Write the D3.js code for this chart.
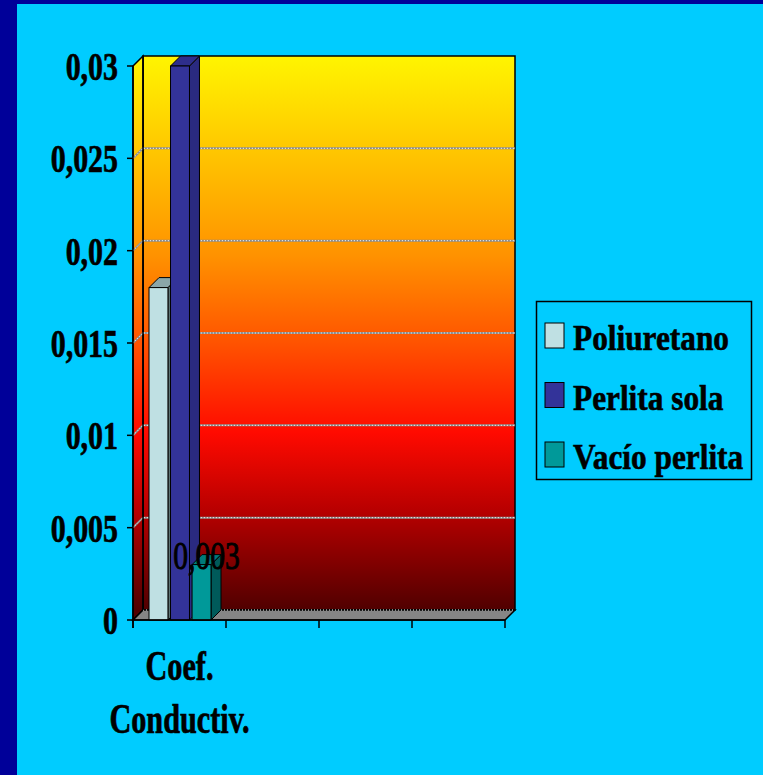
<!DOCTYPE html>
<html>
<head>
<meta charset="utf-8">
<script src="https://cdn.jsdelivr.net/npm/d3@7/dist/d3.min.js"></script>
<style>
  html, body { margin: 0; padding: 0; background: #00CCFF; }
  svg { display: block; }
</style>
</head>
<body>
<svg id="chart" width="763" height="775"></svg>
<script>
// Thermal conductivity comparison of insulation options
const categories = ["Coef. Conductiv.", "", "", ""];
const seriesNames = ["Poliuretano", "Perlita sola", "Vacío perlita"];
const seriesValues = [0.018, 0.03, 0.003];          // values for "Coef. Conductiv."
const seriesLabelShown = [false, false, true];
const yTicks = [0, 0.005, 0.01, 0.015, 0.02, 0.025, 0.03];

const faceColors = [
  { front: "#BFE0E3", top: "#8BA6A8", side: "#5E7474" },
  { front: "#333399", top: "#2E2E8C", side: "#2A2A80" },
  { front: "#009999", top: "#007A7A", side: "#005A5A" }
];

const FONT = "'Liberation Serif', 'Times New Roman', serif";
const svg = d3.select("#chart");
const W = 763, H = 775;

// page background with dark frame on the left and top
svg.append("rect").attr("width", W).attr("height", H).attr("fill", "#000099");
svg.append("rect").attr("x", 17).attr("y", 4).attr("width", W - 17).attr("height", H - 4).attr("fill", "#00CCFF");

// 3-D geometry: front plane and back wall offset by depth
const depth = { dx: 10, dy: 10 };
const x0 = 133, x1 = 505;
const yFront = d3.scaleLinear().domain([0, 0.03]).range([620, 66]);
const yBack = v => yFront(v) - depth.dy;
const xCat = d3.scaleBand().domain(d3.range(categories.length)).range([x0, x1]).padding(0);
const xSeries = d3.scaleBand().domain(d3.range(seriesNames.length)).range([16, 78]).paddingInner(0.12);

// wall gradient
const defs = svg.append("defs");
const grad = defs.append("linearGradient").attr("id", "wallGrad")
  .attr("gradientUnits", "userSpaceOnUse")
  .attr("x1", 0).attr("y1", yBack(0.03)).attr("x2", 0).attr("y2", yBack(0));
[[0, "#FFF500"], [0.18, "#FFC400"], [0.36, "#FF9200"], [0.52, "#FF5200"], [0.68, "#FF0A00"], [0.82, "#B80000"], [1, "#500000"]]
  .forEach(([o, c]) => grad.append("stop").attr("offset", o).attr("stop-color", c));

const line = d3.line();
const poly = pts => line(pts) + "Z";

// back wall
svg.append("path")
  .attr("d", poly([[x0 + depth.dx, yBack(0.03)], [x1 + depth.dx, yBack(0.03)], [x1 + depth.dx, yBack(0)], [x0 + depth.dx, yBack(0)]]))
  .attr("fill", "url(#wallGrad)").attr("stroke", "#000").attr("stroke-width", 1.5);
// side wall
svg.append("path")
  .attr("d", poly([[x0, yFront(0.03)], [x0 + depth.dx, yBack(0.03)], [x0 + depth.dx, yBack(0)], [x0, yFront(0)]]))
  .attr("fill", "url(#wallGrad)").attr("stroke", "#000").attr("stroke-width", 1.5);
// floor
svg.append("path")
  .attr("d", poly([[x0, yFront(0)], [x0 + depth.dx, yBack(0)], [x1 + depth.dx, yBack(0)], [x1, yFront(0)]]))
  .attr("fill", "#858585").attr("stroke", "#000").attr("stroke-width", 1.5);

// gridlines on side and back walls
const grid = svg.append("g");
yTicks.filter(t => t > 0 && t < 0.03).forEach(t => {
  const pts = [[x0, yFront(t)], [x0 + depth.dx, yBack(t)], [x1 + depth.dx, yBack(t)]];
  grid.append("path").attr("d", line(pts)).attr("fill", "none").attr("stroke", "#8C8C8C").attr("stroke-width", 2);
  grid.append("path").attr("d", line(pts)).attr("fill", "none").attr("stroke", "#FFFFFF").attr("stroke-width", 1).attr("stroke-dasharray", "1,2");
});
// floor grid edge at zero
grid.append("path").attr("d", line([[x0 + depth.dx, yBack(0)], [x1 + depth.dx, yBack(0)]]))
  .attr("fill", "none").attr("stroke", "#FFFFFF").attr("stroke-width", 1).attr("stroke-dasharray", "1,2");
svg.append("line").attr("x1", x0 + depth.dx).attr("x2", x0 + depth.dx).attr("y1", yBack(0.03)).attr("y2", yBack(0)).attr("stroke", "#000").attr("stroke-width", 1.5);

// 3-D columns
const bars = svg.append("g");
seriesNames.forEach((name, i) => {
  const v = seriesValues[i];
  const bx = xCat(0) + xSeries(i), bw = xSeries.bandwidth();
  const yt = yFront(v), yb = yFront(0);
  const c = faceColors[i];
  const g = bars.append("g").attr("stroke", "#000").attr("stroke-width", 1).attr("stroke-linejoin", "round");
  g.append("path").attr("fill", c.side)
    .attr("d", poly([[bx + bw, yt], [bx + bw + depth.dx, yt - depth.dy], [bx + bw + depth.dx, yb - depth.dy], [bx + bw, yb]]));
  g.append("path").attr("fill", c.top)
    .attr("d", poly([[bx, yt], [bx + depth.dx, yt - depth.dy], [bx + bw + depth.dx, yt - depth.dy], [bx + bw, yt]]));
  g.append("rect").attr("fill", c.front).attr("x", bx).attr("y", yt).attr("width", bw).attr("height", yb - yt);
});

// axes
const axis = svg.append("g").attr("stroke", "#000").attr("stroke-width", 1.5);
axis.append("line").attr("x1", x0).attr("x2", x0).attr("y1", yFront(0.03)).attr("y2", yFront(0) + 8);
axis.append("line").attr("x1", x0).attr("x2", x1).attr("y1", yFront(0)).attr("y2", yFront(0));
yTicks.forEach(t => axis.append("line").attr("x1", x0 - 6).attr("x2", x0).attr("y1", yFront(t)).attr("y2", yFront(t)));
d3.range(categories.length + 1).forEach(k => {
  const xx = k < categories.length ? xCat(k) : x1;
  axis.append("line").attr("x1", xx).attr("x2", xx).attr("y1", yFront(0)).attr("y2", yFront(0) + 8);
});

// condensed serif text helper
function label(parent, x, y, text, opts) {
  const g = parent.append("g").attr("transform", `translate(${x},${y}) scale(${opts.sx},1)`);
  g.append("text").text(text)
    .attr("text-anchor", opts.anchor || "start")
    .attr("font-family", FONT)
    .attr("font-size", opts.size)
    .attr("font-weight", opts.weight || "bold")
    .attr("fill", "#000")
    .attr("stroke", "#000")
    .attr("stroke-width", opts.stroke == null ? 0.7 : opts.stroke);
}

const fmt = d3.formatLocale({ decimal: ",", thousands: ".", grouping: [3], currency: ["", ""] }).format("~g");
const texts = svg.append("g");
yTicks.forEach(t => label(texts, 118, yFront(t) + 14, fmt(t), { size: 41, sx: 0.73, anchor: "end" }));

categories.forEach((cat, k) => {
  if (!cat) return;
  const cx = xCat(k) + xCat.bandwidth() / 2;
  cat.split(" ").forEach((part, j) => label(texts, cx, 680 + j * 53, part, { size: 42, sx: 0.72, anchor: "middle" }));
});

// value label
seriesNames.forEach((name, i) => {
  if (!seriesLabelShown[i]) return;
  const v = seriesValues[i];
  const cx = xCat(0) + xSeries(i) + xSeries.bandwidth() / 2 + depth.dx / 2;
  label(texts, cx, yFront(v) + 4, fmt(v), { size: 41, sx: 0.72, anchor: "middle", weight: "normal", stroke: 1 });
});

// legend
const legend = svg.append("g");
legend.append("rect").attr("x", 536.5).attr("y", 301.5).attr("width", 215).attr("height", 178)
  .attr("fill", "#00CCFF").attr("stroke", "#000").attr("stroke-width", 1.5);
seriesNames.forEach((name, i) => {
  const yTop = 323 + i * 59.5;
  legend.append("rect").attr("x", 545).attr("y", yTop).attr("width", 19).attr("height", 25)
    .attr("fill", faceColors[i].front).attr("stroke", "#000").attr("stroke-width", 1);
  label(legend, 573, yTop + 27, name, { size: 36, sx: 0.87, anchor: "start", stroke: 0.6 });
});
</script>
</body>
</html>
